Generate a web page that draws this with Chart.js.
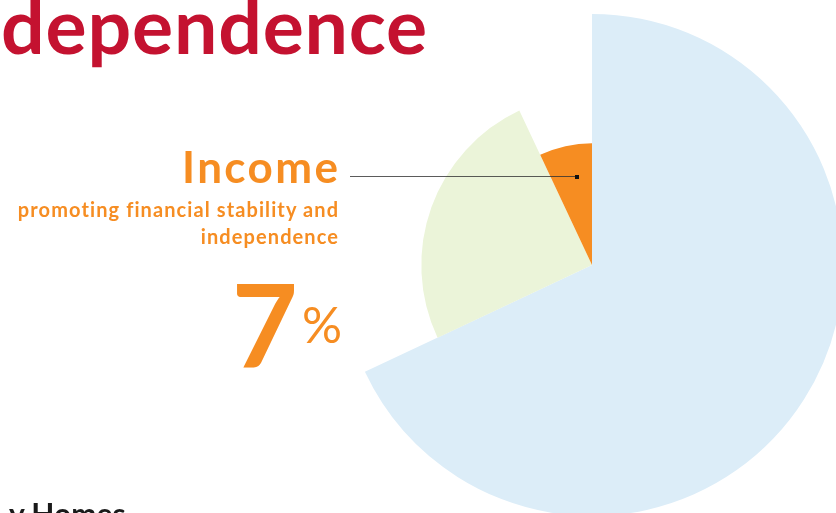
<!DOCTYPE html>
<html>
<head>
<meta charset="utf-8">
<script src="https://cdn.jsdelivr.net/npm/chart.js@4.4.1/dist/chart.umd.min.js"></script>
<style>
  html, body { margin: 0; padding: 0; background: #fff; }
  #wrap { position: relative; width: 836px; height: 513px; overflow: hidden; font-family: Lato, "Open Sans", sans-serif; }
  #pie { position: absolute; left: 0; top: 0; }
  .title { position: absolute; right: 408px; top: -22px; font-size: 77px; font-weight: 700; color: #c41230; white-space: nowrap; letter-spacing: 0.8px; }
  .label { position: absolute; right: 498px; text-align: right; color: #f68d22; font-weight: 700; white-space: nowrap; }
  .head { top: 140px; font-size: 44px; letter-spacing: 2.4px; margin-right: -2.4px; }
  .sub { top: 196px; font-size: 20px; line-height: 27px; letter-spacing: 1.1px; margin-right: -1.1px; }
  .pct { top: 266px; right: 494px; font-size: 114px; line-height: 1; }
  .pct span { font-size: 50px; font-weight: 400; vertical-align: 24px; margin-left: 4px; }
  .leader { position: absolute; left: 350px; top: 176px; width: 227px; height: 0; border-top: 1.5px solid rgba(50,50,50,0.8); }
  .dot { position: absolute; left: 575px; top: 175px; width: 4px; height: 4px; background: #111; }
  .foot { position: absolute; left: 9px; top: 495px; font-size: 30px; font-weight: 700; color: #1a1a1a; }
</style>
</head>
<body>
<div id="wrap">
  <canvas id="pie" width="836" height="513"></canvas>
  <div class="title">Independence</div>
  <div class="label head">Income</div>
  <div class="label sub">promoting financial stability and<br>independence</div>
  <div class="label pct">7<span>%</span></div>
  <div class="leader"></div>
  <div class="dot"></div>
  <div class="foot">y Homes</div>
</div>
<script>
// slice shares, clockwise from 12 o'clock
const categories = ['Homes', 'Health', 'Income'];
const shares = [68, 25, 7];
const colors = ['#dcedf8', '#ebf4d9', '#f68d22'];
// each slice is drawn at its own length (fraction of the full radius)
const reach = [1, 0.68, 0.485];

const sliceLength = {
    id: 'sliceLength',
    afterDatasetsUpdate(chart) {
        const meta = chart.getDatasetMeta(0);
        meta.data.forEach((arc, i) => {
            arc.outerRadius = meta.controller.outerRadius * reach[i];
        });
    }
};

new Chart(document.getElementById('pie'), {
    type: 'pie',
    data: {
        labels: categories,
        datasets: [{
            data: shares,
            backgroundColor: colors,
            borderWidth: 0,
            clip: false
        }]
    },
    options: {
        responsive: false,
        animation: false,
        events: [],
        radius: 251,
        layout: { padding: { left: 348, top: 17, right: 0, bottom: 0 } },
        plugins: {
            legend: { display: false },
            tooltip: { enabled: false }
        }
    },
    plugins: [sliceLength]
});
</script>
</body>
</html>
